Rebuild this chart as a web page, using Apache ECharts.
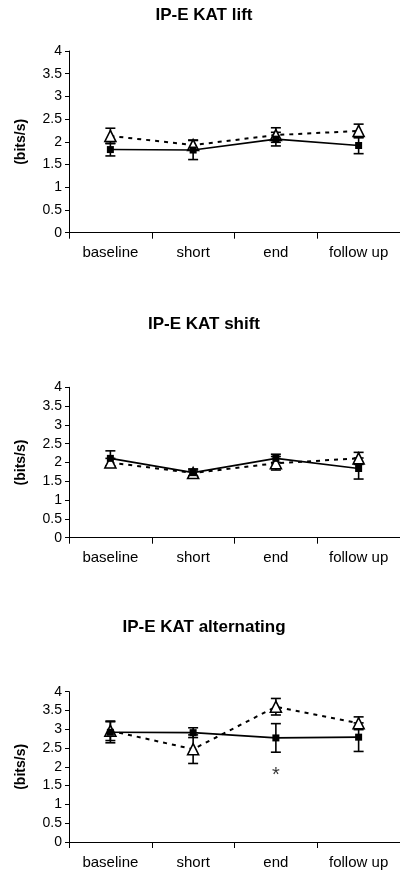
<!DOCTYPE html>
<html>
<head>
<meta charset="utf-8">
<script src="https://cdn.jsdelivr.net/npm/echarts@6/dist/echarts.min.js"></script>
<style>
html,body{margin:0;padding:0;background:#fff;}
#chart{width:400px;height:875px;}
</style>
</head>
<body>
<div id="chart"></div>
<script>
// ---- data ----
const categories = ['baseline', 'short', 'end', 'follow up'];
const yTicks = [0, 0.5, 1, 1.5, 2, 2.5, 3, 3.5, 4];
const titles = ['IP-E KAT lift', 'IP-E KAT shift', 'IP-E KAT alternating'];
const yAxisName = '(bits/s)';

// panel 1: lift
const liftSolid = [1.83, 1.82, 2.06, 1.92];
const liftSolidErr = [0.14, 0.21, 0.15, 0.18];
const liftDashed = [2.13, 1.93, 2.15, 2.24];
const liftDashedErr = [0.17, 0.11, 0.16, 0.15];

// panel 2: shift
const shiftSolid = [2.11, 1.73, 2.11, 1.84];
const shiftSolidErr = [0.20, 0.10, 0.11, 0.28];
const shiftDashed = [2.00, 1.72, 1.98, 2.11];
const shiftDashedErr = [0.11, 0.08, 0.18, 0.16];

// panel 3: alternating
const altSolid = [2.92, 2.91, 2.77, 2.79];
const altSolidErr = [0.28, 0.13, 0.38, 0.38];
const altDashed = [2.96, 2.47, 3.60, 3.16];
const altDashedErr = [0.26, 0.38, 0.22, 0.17];

// significance marker (panel 3, "end")
const asteriskPoint = [2, 1.87];

// ---- layout ----
const grids = [
  {left: 69, width: 333, top: 51, height: 181.7},
  {left: 69, width: 333, top: 387.3, height: 150.4},
  {left: 69, width: 333, top: 691.7, height: 150.3}
];
const titleTops = [6.5, 315.5, 619];

const panels = [
  [liftSolid, liftSolidErr, liftDashed, liftDashedErr],
  [shiftSolid, shiftSolidErr, shiftDashed, shiftDashedErr],
  [altSolid, altSolidErr, altDashed, altDashedErr]
];

const FONT = 'Liberation Sans, Arial, sans-serif';

function errRender(params, api) {
  const x = api.value(0), m = api.value(1), e = api.value(2);
  const top = api.coord([x, m + e]);
  const bot = api.coord([x, m - e]);
  const hw = 5;
  const style = {stroke: '#000', lineWidth: 1.6};
  return {
    type: 'group',
    children: [
      {type: 'line', shape: {x1: top[0], y1: top[1], x2: bot[0], y2: bot[1]}, style: style},
      {type: 'line', shape: {x1: top[0] - hw, y1: top[1], x2: top[0] + hw, y2: top[1]}, style: style},
      {type: 'line', shape: {x1: bot[0] - hw, y1: bot[1], x2: bot[0] + hw, y2: bot[1]}, style: style}
    ]
  };
}

const xAxes = [], yAxes = [], series = [];
panels.forEach((p, i) => {
  xAxes.push({
    type: 'category', gridIndex: i, data: categories, boundaryGap: true,
    axisLine: {lineStyle: {color: '#000', width: 1}},
    axisTick: {show: true, alignWithLabel: false, length: 6, lineStyle: {color: '#000'}},
    axisLabel: {color: '#000', fontSize: 15, fontFamily: FONT, margin: 13}
  });
  yAxes.push({
    type: 'value', gridIndex: i, min: yTicks[0], max: yTicks[yTicks.length - 1], interval: 0.5,
    splitLine: {show: false},
    axisLine: {show: true, lineStyle: {color: '#000', width: 1}},
    axisTick: {show: true, length: 4, lineStyle: {color: '#000'}},
    axisLabel: {color: '#000', fontSize: 14, fontFamily: FONT, margin: 7},
    name: yAxisName, nameLocation: 'middle', nameGap: 41, nameRotate: 90,
    nameTextStyle: {color: '#000', fontSize: 14, fontWeight: 'bold', fontFamily: FONT}
  });
  const [s, se, d, de] = p;
  series.push({
    type: 'custom', xAxisIndex: i, yAxisIndex: i, renderItem: errRender, z: 3,
    data: d.map((v, k) => [k, v, de[k]]), silent: true
  });
  series.push({
    type: 'custom', xAxisIndex: i, yAxisIndex: i, renderItem: errRender, z: 3,
    data: s.map((v, k) => [k, v, se[k]]), silent: true
  });
  series.push({
    type: 'line', xAxisIndex: i, yAxisIndex: i, data: d, z: 4,
    symbol: 'triangle', symbolSize: [11, 11], showAllSymbol: true,
    lineStyle: {color: '#000', width: 2, type: [4, 5]},
    itemStyle: {color: '#fff', borderColor: '#000', borderWidth: 1.6},
    animation: false
  });
  series.push({
    type: 'line', xAxisIndex: i, yAxisIndex: i, data: s, z: 5,
    symbol: 'rect', symbolSize: 7, showAllSymbol: true,
    lineStyle: {color: '#000', width: 1.6, type: 'solid'},
    itemStyle: {color: '#000', borderColor: '#000', borderWidth: 0},
    animation: false
  });
});

series.push({
  type: 'scatter', xAxisIndex: 2, yAxisIndex: 2, data: [asteriskPoint],
  symbolSize: 0, z: 6,
  label: {show: true, position: 'inside', formatter: '*', color: '#000', fontSize: 20, fontFamily: FONT, offset: [0, 4]}
});

const chart = echarts.init(document.getElementById('chart'), null, {renderer: 'canvas'});
chart.setOption({
  animation: false,
  backgroundColor: '#fff',
  title: titles.map((t, i) => ({
    text: t, left: 204, top: titleTops[i], textAlign: 'center', padding: 0,
    textStyle: {color: '#000', fontSize: 17, fontWeight: 'bold', fontFamily: FONT}
  })),
  grid: grids,
  xAxis: xAxes,
  yAxis: yAxes,
  series: series
});
</script>
</body>
</html>
